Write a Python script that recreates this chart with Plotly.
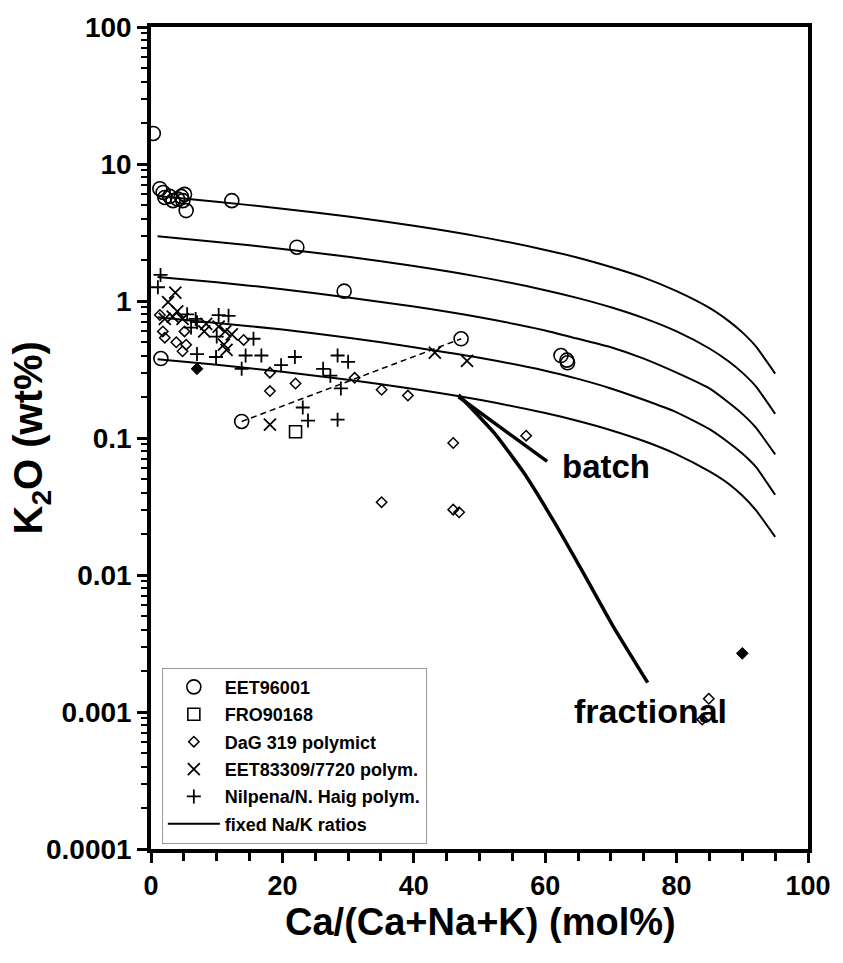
import plotly.graph_objects as go

# ---------------- data ----------------
eet96001_x = [0.35, 1.35, 1.85, 2.1, 2.85, 3.35, 4.05, 4.6, 5.1, 4.85, 5.35, 12.3,
              22.2, 29.4, 1.5, 13.8, 47.2, 62.4, 63.3, 63.4]
eet96001_y = [16.7, 6.6, 6.2, 5.7, 5.8, 5.4, 5.55, 5.8, 6.0, 5.4, 4.57, 5.4,
              2.47, 1.18, 0.38, 0.132, 0.53, 0.40, 0.37, 0.354]

fro_x = [22.0]
fro_y = [0.111]

dag_x = [1.35, 1.8, 2.1, 3.85, 5.35, 4.8, 5.1, 14.1, 18.1, 18.1, 22.0, 31.0, 35.1,
         39.1, 46.0, 57.1, 35.1, 46.0, 46.9, 84.9, 83.9]
dag_y = [0.79, 0.60, 0.54, 0.50, 0.48, 0.43, 0.60, 0.52, 0.30, 0.22, 0.25, 0.275, 0.225,
         0.204, 0.092, 0.104, 0.034, 0.030, 0.0287, 0.00125, 0.00088]
dag_filled_x = [7.0, 90.0]
dag_filled_y = [0.32, 0.00268]

eet83309_x = [18.1, 43.2, 48.1, 3.7, 2.6, 4.0, 3.3, 4.8, 8.4, 8.1, 10.3, 11.3, 12.3,
              11.5, 11.1, 2.1]
eet83309_y = [0.125, 0.42, 0.366, 1.15, 0.98, 0.84, 0.77, 0.74, 0.68, 0.60, 0.65, 0.60,
              0.57, 0.44, 0.48, 0.74]

nil_x = [1.45, 1.05, 5.5, 10.3, 11.8, 7.0, 6.1, 10.0, 7.0, 9.9, 14.4, 16.8, 21.9, 19.8,
         13.8, 15.6, 28.4, 30.0, 26.2, 27.3, 28.9, 23.1, 23.9, 28.4, 6.8]
nil_y = [1.55, 1.26, 0.80, 0.79, 0.78, 0.70, 0.64, 0.55, 0.41, 0.39, 0.40, 0.40, 0.39, 0.34,
         0.32, 0.53, 0.40, 0.36, 0.32, 0.285, 0.23, 0.167, 0.134, 0.136, 0.74]

dash_x = [13.8, 47.2]
dash_y = [0.132, 0.53]

curve_x = [1, 10, 20, 30, 40, 50, 60, 65, 70, 75, 80, 85, 88, 90, 92, 95]
curve1_y = [5.84, 5.31, 4.72, 4.13, 3.54, 2.95, 2.36, 2.07, 1.77, 1.48, 1.18, 0.89, 0.71, 0.59, 0.47, 0.295]
curve2_y = [2.97, 2.70, 2.40, 2.10, 1.80, 1.50, 1.20, 1.05, 0.90, 0.75, 0.60, 0.45, 0.36, 0.30, 0.24, 0.15]
curve3_y = [1.50, 1.37, 1.22, 1.06, 0.91, 0.76, 0.61, 0.53, 0.46, 0.38, 0.30, 0.23, 0.18, 0.15, 0.12, 0.076]
curve4_y = [0.76, 0.69, 0.62, 0.54, 0.46, 0.385, 0.31, 0.27, 0.23, 0.19, 0.154, 0.116, 0.092, 0.077, 0.062, 0.0385]
curve5_y = [0.376, 0.342, 0.304, 0.266, 0.228, 0.19, 0.152, 0.133, 0.114, 0.095, 0.076, 0.057, 0.046, 0.038, 0.030, 0.019]

batch_x = [46.8, 60.3]
batch_y = [0.20, 0.0675]

frac_x = [46.8, 52.3, 56.8, 61.3, 65.8, 70.3, 75.6]
frac_y = [0.207, 0.108, 0.0552, 0.0247, 0.01035, 0.00426, 0.00164]

y_tickvals = [0.0001, 0.001, 0.01, 0.1, 1, 10, 100]
y_ticktext = ["0.0001", "0.001", "0.01", "0.1", "1", "10", "100"]

FONT = "Liberation Sans, Arial, Helvetica, sans-serif"

fig = go.Figure()

# model curves
for i, cy in enumerate([curve1_y, curve2_y, curve3_y, curve4_y, curve5_y]):
    fig.add_trace(go.Scatter(
        x=curve_x, y=cy, mode="lines", line=dict(color="black", width=2, shape="spline", smoothing=0.6),
        name="fixed Na/K ratios", showlegend=(i == 0), legendrank=6, legendgroup="g6",
        hoverinfo="skip"))

fig.add_trace(go.Scatter(x=batch_x, y=batch_y, mode="lines",
                         line=dict(color="black", width=3.5), showlegend=False))
fig.add_trace(go.Scatter(x=frac_x, y=frac_y, mode="lines",
                         line=dict(color="black", width=3.5, shape="spline", smoothing=0.5),
                         showlegend=False))
fig.add_trace(go.Scatter(x=dash_x, y=dash_y, mode="lines",
                         line=dict(color="black", width=1.5, dash="6px,4px"), showlegend=False))

fig.add_trace(go.Scatter(x=eet96001_x, y=eet96001_y, mode="markers", name="EET96001",
                         legendrank=1, legendgroup="g1",
                         marker=dict(symbol="circle-open", size=14, color="black", line=dict(width=1.6))))
fig.add_trace(go.Scatter(x=fro_x, y=fro_y, mode="markers", name="FRO90168",
                         legendrank=2, legendgroup="g2",
                         marker=dict(symbol="square-open", size=12, color="black", line=dict(width=1.6))))
fig.add_trace(go.Scatter(x=dag_x, y=dag_y, mode="markers", name="DaG 319 polymict",
                         legendrank=3, legendgroup="g3",
                         marker=dict(symbol="diamond-open", size=8, color="black", line=dict(width=1.5))))
fig.add_trace(go.Scatter(x=dag_filled_x, y=dag_filled_y, mode="markers", showlegend=False,
                         legendgroup="g3",
                         marker=dict(symbol="diamond", size=9, color="black", line=dict(width=1, color="black"))))
fig.add_trace(go.Scatter(x=eet83309_x, y=eet83309_y, mode="markers", name="EET83309/7720 polym.",
                         legendrank=4, legendgroup="g4",
                         marker=dict(symbol="x-thin-open", size=12, color="black", line=dict(width=1.8))))
fig.add_trace(go.Scatter(x=nil_x, y=nil_y, mode="markers", name="Nilpena/N. Haig polym.",
                         legendrank=5, legendgroup="g5",
                         marker=dict(symbol="cross-thin-open", size=10, color="black", line=dict(width=1.8))))

minor_vals = []
for e in range(-4, 2):
    for m in range(2, 10):
        minor_vals.append(m * 10 ** e)

fig.update_layout(
    width=843, height=963,
    margin=dict(l=151, r=25, t=24, b=114),
    paper_bgcolor="white", plot_bgcolor="white",
    font=dict(family=FONT, color="black"),
    showlegend=True,
    legend=dict(x=0.0165, y=0.2206, xanchor="left", yanchor="top",
                bgcolor="white", bordercolor="#999999", borderwidth=1,
                font=dict(family=FONT, size=18, weight="bold", color="black"),
                itemwidth=52, traceorder="grouped", tracegroupgap=1, groupclick="toggleitem"),
    xaxis=dict(range=[0, 100], tickvals=[0, 20, 40, 60, 80, 100],
               ticks="outside", ticklen=10, tickwidth=3, tickcolor="black",
               minor=dict(dtick=5, ticks="outside", ticklen=8, tickwidth=3, tickcolor="black", showgrid=False),
               showline=True, linewidth=3.5, linecolor="black", mirror=True,
               showgrid=False, zeroline=False,
               tickfont=dict(family=FONT, size=27, weight="bold", color="black")),
    yaxis=dict(type="log", range=[-4, 2], tickvals=y_tickvals, ticktext=y_ticktext,
               ticks="outside", ticklen=10, tickwidth=3, tickcolor="black",
               minor=dict(tickvals=minor_vals, ticks="outside", ticklen=6, tickwidth=2, tickcolor="black", showgrid=False),
               showline=True, linewidth=3.5, linecolor="black", mirror=True,
               showgrid=False, zeroline=False,
               tickfont=dict(family=FONT, size=28, weight="bold", color="black")),
    annotations=[
        dict(text="Ca/(Ca+Na+K) (mol%)", xref="paper", yref="paper", x=0.502, y=-0.089,
             xanchor="center", yanchor="middle", showarrow=False,
             font=dict(family=FONT, size=38, weight="bold", color="black")),
        dict(text="K<sub>2</sub>O (wt%)", xref="paper", yref="paper", x=-0.182, y=0.5,
             xanchor="center", yanchor="middle", showarrow=False, textangle=-90,
             font=dict(family=FONT, size=40, weight="bold", color="black")),
        dict(text="batch", xref="x", yref="y", x=69.3, y=-1.207,
             xanchor="center", yanchor="middle", showarrow=False,
             font=dict(family=FONT, size=33, weight="bold", color="black")),
        dict(text="fractional", xref="x", yref="y", x=76.0, y=-2.99,
             xanchor="center", yanchor="middle", showarrow=False,
             font=dict(family=FONT, size=34, weight="bold", color="black")),
    ],
)

fig.write_html("out.html")
